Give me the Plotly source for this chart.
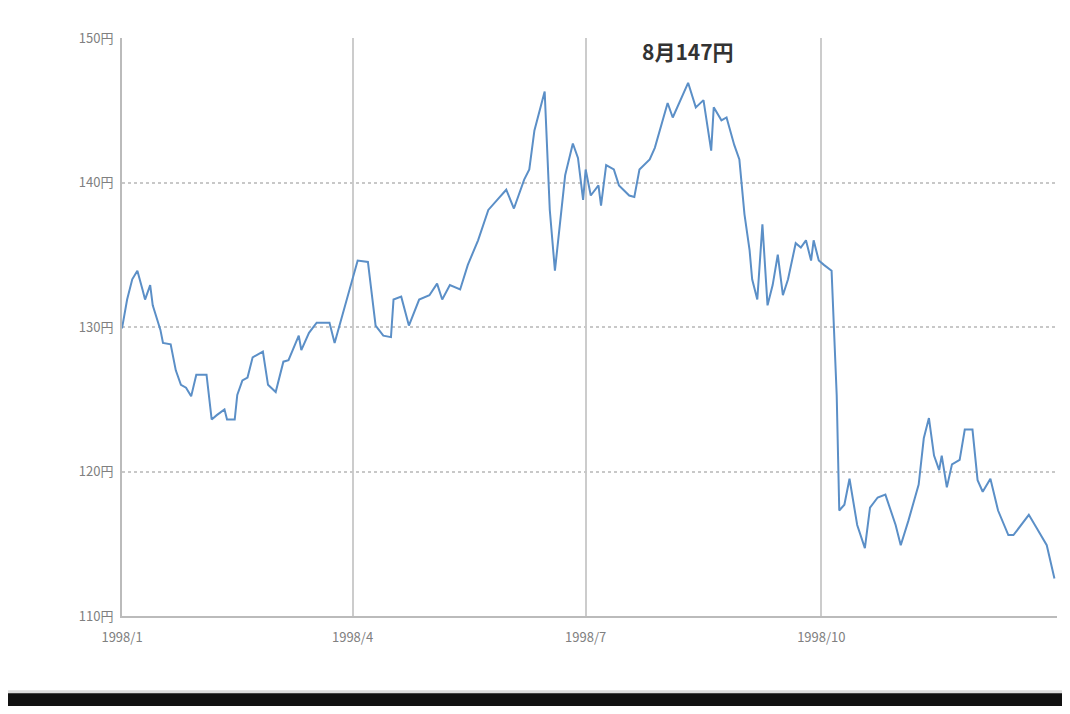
import plotly.graph_objects as go

dates = ["1998-01-01","1998-01-03","1998-01-05","1998-01-07","1998-01-09","1998-01-10","1998-01-12","1998-01-13","1998-01-16","1998-01-17",
"1998-01-20","1998-01-22","1998-01-24","1998-01-26","1998-01-28","1998-01-30","1998-02-03","1998-02-05","1998-02-07","1998-02-10",
"1998-02-11","1998-02-14","1998-02-15","1998-02-17","1998-02-19","1998-02-21","1998-02-25","1998-02-27","1998-03-02","1998-03-05",
"1998-03-07","1998-03-11","1998-03-12","1998-03-15","1998-03-18","1998-03-23","1998-03-25","1998-03-29","1998-04-01","1998-04-03",
"1998-04-07","1998-04-10","1998-04-13","1998-04-16","1998-04-17","1998-04-20","1998-04-23","1998-04-27","1998-05-01","1998-05-04",
"1998-05-06","1998-05-09","1998-05-13","1998-05-16","1998-05-20","1998-05-24","1998-05-28","1998-05-31","1998-06-03","1998-06-07",
"1998-06-09","1998-06-11","1998-06-15","1998-06-17","1998-06-19","1998-06-21","1998-06-23","1998-06-26","1998-06-28","1998-06-30",
"1998-07-01","1998-07-03","1998-07-06","1998-07-07","1998-07-09","1998-07-12","1998-07-14","1998-07-18","1998-07-20","1998-07-22",
"1998-07-26","1998-07-28","1998-07-30","1998-08-02","1998-08-04","1998-08-07","1998-08-10","1998-08-13","1998-08-16","1998-08-19",
"1998-08-20","1998-08-23","1998-08-25","1998-08-28","1998-08-30","1998-09-01","1998-09-03","1998-09-04","1998-09-06","1998-09-08",
"1998-09-10","1998-09-12","1998-09-14","1998-09-16","1998-09-18","1998-09-21","1998-09-23","1998-09-25","1998-09-27","1998-09-28",
"1998-09-30","1998-10-02","1998-10-05","1998-10-07","1998-10-08","1998-10-10","1998-10-12","1998-10-15","1998-10-18","1998-10-20",
"1998-10-23","1998-10-26","1998-10-30","1998-11-01","1998-11-04","1998-11-08","1998-11-10","1998-11-12","1998-11-14","1998-11-16",
"1998-11-17","1998-11-19","1998-11-21","1998-11-24","1998-11-26","1998-11-29","1998-12-01","1998-12-03","1998-12-06","1998-12-09",
"1998-12-13","1998-12-15","1998-12-21","1998-12-24","1998-12-28","1998-12-31"]

yen = [129.9,131.9,133.3,133.9,132.6,131.9,132.9,131.5,129.8,128.9,
128.8,127.0,126.0,125.8,125.2,126.7,126.7,123.6,123.9,124.3,
123.6,123.6,125.3,126.3,126.5,127.9,128.3,126.0,125.5,127.6,
127.7,129.4,128.4,129.6,130.3,130.3,128.9,131.5,133.3,134.6,
134.5,130.1,129.4,129.3,131.9,132.1,130.1,131.9,132.2,133.0,
131.9,132.9,132.6,134.3,136.0,138.1,138.9,139.5,138.2,140.2,
140.9,143.6,146.3,138.1,133.9,137.4,140.5,142.7,141.7,138.8,
140.9,139.1,139.8,138.4,141.2,140.9,139.8,139.1,139.0,140.9,
141.6,142.4,143.6,145.5,144.5,145.7,146.9,145.2,145.7,142.2,
145.2,144.3,144.5,142.6,141.6,137.8,135.3,133.3,131.9,137.1,
131.5,132.9,135.0,132.2,133.3,135.8,135.5,136.0,134.6,136.0,
134.6,134.3,133.9,125.3,117.3,117.7,119.5,116.3,114.7,117.5,
118.2,118.4,116.3,114.9,116.6,119.1,122.3,123.7,121.1,120.1,
121.1,118.9,120.5,120.8,122.9,122.9,119.4,118.6,119.5,117.3,
115.6,115.6,117.0,116.1,114.9,112.6]

x_tickvals = ["1998-01-01","1998-04-01","1998-07-01","1998-10-01","1999-01-01"]
x_ticktext = ["1998/1","1998/4","1998/7","1998/10",""]
y_tickvals = [110,120,130,140,150]
y_ticktext = ["110円","120円","130円","140円","150円"]

font = "Noto Sans CJK JP"
fig = go.Figure(go.Scatter(x=dates, y=yen, mode="lines",
                           line=dict(color="#5b8fc7", width=2)))
fig.update_layout(
    width=1054, height=698,
    margin=dict(l=114, r=5, t=30, b=90),
    paper_bgcolor="#111111", plot_bgcolor="white",
    showlegend=False,
    font=dict(family=font, color="#808080", size=13),
    shapes=[dict(type="rect", xref="paper", yref="paper", layer="below",
                 x0=-0.13, x1=1.02, y0=-0.131, y1=1.07,
                 fillcolor="white", line=dict(color="#dddddd", width=3))],
    annotations=[dict(text="<b>8月147円</b>", x="1998-08-10", y=150, xref="x", yref="y",
                      yanchor="bottom", yshift=-30, showarrow=False,
                      font=dict(size=21, color="#333333", family=font))],
)
fig.update_xaxes(range=["1998-01-01","1999-01-01"], tickvals=x_tickvals, ticktext=x_ticktext,
                 showgrid=True, gridcolor="#cccccc", gridwidth=1.5,
                 showline=True, linecolor="#bbbbbb", linewidth=2, ticks="", zeroline=False,
                 ticklabelstandoff=8)
fig.update_yaxes(range=[110,150], tickvals=y_tickvals, ticktext=y_ticktext,
                 showgrid=True, gridcolor="#c8c8c8", gridwidth=2, griddash="dot",
                 showline=True, linecolor="#bbbbbb", linewidth=2, ticks="", zeroline=False,
                 ticklabelstandoff=4)
fig.write_html("out.html")
